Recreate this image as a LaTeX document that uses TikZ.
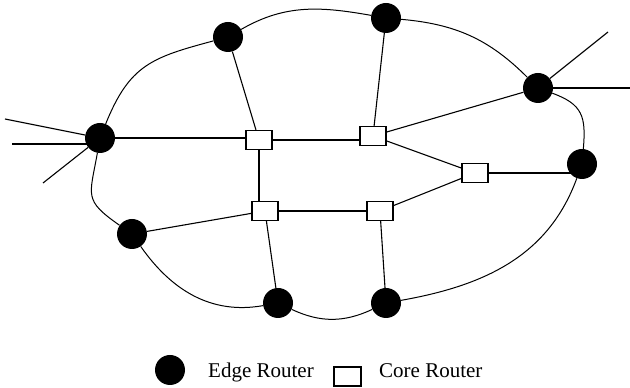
\documentclass[tikz,border=0pt]{standalone}
\usepackage{fontspec}
\setmainfont{Liberation Serif}
\usetikzlibrary{backgrounds}
\begin{document}
\begin{tikzpicture}[x=1pt,y=1pt,
  edge/.style={circle,fill=black,draw=none,minimum size=30pt,inner sep=0pt},
  core/.style={rectangle,draw=black,fill=white,line width=1.3pt,minimum width=26pt,minimum height=19pt,inner sep=0pt},
  link/.style={line width=1.1pt},
  ring/.style={line width=1pt},
  lbl/.style={anchor=base west,inner sep=0pt,font=\fontsize{21}{24}\selectfont}]
\useasboundingbox (0,0) rectangle (630,388);
% edge routers
\node[edge] (E1) at (100,250) {};
\node[edge] (E2) at (228,351) {};
\node[edge] (E3) at (386,370) {};
\node[edge] (E4) at (538,300) {};
\node[edge] (E5) at (582,224) {};
\node[edge] (E6) at (132,154) {};
\node[edge] (E7) at (278,85) {};
\node[edge] (E8) at (386,85) {};
% core routers
\node[core] (C1) at (259,248) {};
\node[core] (C2) at (373,252) {};
\node[core] (C3) at (475,215) {};
\node[core] (C4) at (265,177) {};
\node[core] (C5) at (380,177) {};
% external stubs
\coordinate (X1) at (5,269);
\coordinate (X2) at (12,244);
\coordinate (X3) at (43,205);
\coordinate (X4) at (608,356);
\coordinate (X5) at (630,300);
\begin{pgfonlayer}{background}
\draw[link] (X1) -- (E1);
\draw[link] (X2) -- (X2 -| E1);
\draw[link] (X3) -- (E1);
\draw[link] (X4) -- (E4);
\draw[link] (X5) -- (E4);
% inner links
\draw[link] (E1) -- (E1 -| C1);
\draw[link] (C1) -- (C1 -| C2);
\draw[link] (C1) -- (E2);
\draw[link] (C2) -- (E3);
\draw[link] (C2) -- (E4);
\draw[link] (C2) -- (C3);
\draw[link] (C3) -- (C3 -| E5);
\draw[link] (C1) -- (C1 |- C4);
\draw[link] (C4) -- (C5);
\draw[link] (C5) -- (C3);
\draw[link] (C4) -- (E6);
\draw[link] (C4) -- (E7);
\draw[link] (C5) -- (E8);
% outer ring
\draw[ring] (E1) to[out=68,in=195,looseness=1.2] (E2);
\draw[ring] (E2) to[out=30,in=170] (E3);
\draw[ring] (E3) to[out=-5,in=135] (E4);
\draw[ring] (E4) to[out=-20,in=85,looseness=1.3] (E5);
\draw[ring] (E5) to[out=-110,in=10] (E8);
\draw[ring] (E8) to[bend left=25] (E7);
\draw[ring] (E7) to[out=190,in=-55] (E6);
\draw[ring] (E6) to[out=145,in=-100,looseness=1.5] (E1);
\end{pgfonlayer}
% legend
\node[edge] (LE) at (170,18) {};
\node[lbl] (LEt) at (208,10) {Edge Router};
\node[core,minimum width=27pt] (LC) at (347.5,11.5) {};
\node[lbl] (LCt) at (379,10) {Core Router};
\end{tikzpicture}
\end{document}
